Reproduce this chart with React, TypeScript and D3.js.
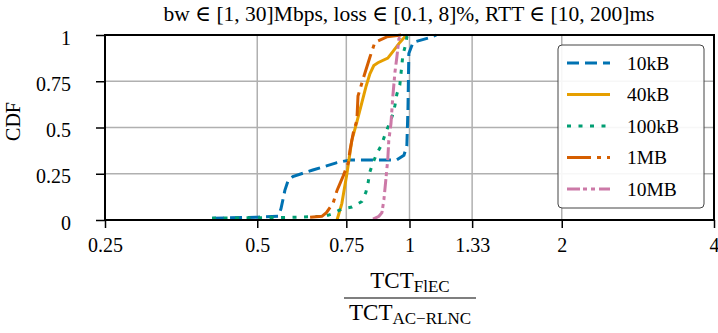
import { useEffect, useRef } from "react";
import * as d3 from "d3";

const xTicks = [0.25, 0.5, 0.75, 1, 1.33, 2, 4];
const xTickLabels = ["0.25", "0.5", "0.75", "1", "1.33", "2", "4"];
const yTicks = [0, 0.25, 0.5, 0.75, 1];
const yTickLabels = ["0", "0.25", "0.5", "0.75", "1"];

const seriesNames = ["10kB", "40kB", "100kB", "1MB", "10MB"];
const seriesColors = ["#0072B2", "#E69F00", "#009E73", "#D55E00", "#CC79A7"];
const seriesDashes = ["12,6", "none", "4,7.5", "24,6,4,6", "13,3,4,4,4,4"];

// [ratio, cdf]
const cdf10kB: [number, number][] = [
  [0.407, 0.01], [0.5, 0.015], [0.55, 0.02], [0.557, 0.06], [0.567, 0.16],
  [0.575, 0.21], [0.588, 0.235], [0.644, 0.27], [0.719, 0.31], [0.763, 0.325],
  [0.944, 0.325], [0.975, 0.35], [0.988, 0.4], [0.993, 0.6], [0.997, 0.9],
  [1.016, 0.96], [1.11, 0.99], [1.13, 1.0],
];
const cdf40kB: [number, number][] = [
  [0.719, 0], [0.735, 0.09], [0.752, 0.25], [0.769, 0.43], [0.787, 0.53],
  [0.805, 0.635], [0.82, 0.72], [0.835, 0.79], [0.85, 0.835], [0.866, 0.85],
  [0.906, 0.875], [0.927, 0.91], [0.957, 0.96], [0.979, 0.99], [0.99, 1.0],
];
const cdf100kB: [number, number][] = [
  [0.407, 0.01], [0.5, 0.012], [0.6, 0.015], [0.68, 0.02], [0.706, 0.035],
  [0.735, 0.06], [0.769, 0.07], [0.805, 0.1], [0.82, 0.15], [0.828, 0.2],
  [0.835, 0.26], [0.847, 0.31], [0.862, 0.36], [0.882, 0.41], [0.894, 0.46],
  [0.906, 0.5], [0.927, 0.57], [0.936, 0.62], [0.944, 0.68], [0.957, 0.73],
  [0.966, 0.84], [0.97, 0.89], [0.983, 0.95], [0.988, 0.99], [0.995, 1.0],
];
const cdf1MB: [number, number][] = [
  [0.636, 0.015], [0.671, 0.02], [0.685, 0.04], [0.706, 0.09], [0.719, 0.16],
  [0.74, 0.24], [0.757, 0.31], [0.763, 0.38], [0.774, 0.47], [0.787, 0.54],
  [0.791, 0.67], [0.809, 0.76], [0.835, 0.88], [0.854, 0.96], [0.902, 0.99],
  [0.966, 1.0],
];
const cdf10MB: [number, number][] = [
  [0.847, 0.005], [0.87, 0.02], [0.882, 0.04], [0.89, 0.11], [0.898, 0.22],
  [0.906, 0.33], [0.91, 0.43], [0.919, 0.52], [0.927, 0.67], [0.936, 0.8],
  [0.944, 0.88], [0.953, 0.98], [0.966, 1.0],
];

const seriesData = [cdf10kB, cdf40kB, cdf100kB, cdf1MB, cdf10MB];

const FONT = "Liberation Serif, DejaVu Serif, serif";

const CdfChart = () => {
  const ref = useRef<SVGSVGElement | null>(null);

  useEffect(() => {
    if (!ref.current) return;
    const width = 718;
    const height = 333;
    const margin = { top: 35, right: 4, bottom: 113, left: 105 };

    d3.select(ref.current).selectAll("*").remove();
    const svg = d3
      .select(ref.current)
      .attr("width", width)
      .attr("height", height)
      .style("font-family", FONT);

    const x = d3
      .scaleLog()
      .base(2)
      .domain([0.25, 4])
      .range([margin.left, width - margin.right]);
    const y = d3
      .scaleLinear()
      .domain([0, 1])
      .range([height - margin.bottom, margin.top]);

    const x0 = margin.left;
    const x1 = width - margin.right;
    const y0 = height - margin.bottom;
    const y1 = margin.top;

    // grid
    const grid = svg.append("g").attr("stroke", "#b0b0b0").attr("stroke-width", 1.5);
    grid
      .selectAll(".gx")
      .data(xTicks)
      .join("line")
      .attr("x1", (d) => x(d))
      .attr("x2", (d) => x(d))
      .attr("y1", y1)
      .attr("y2", y0);
    grid
      .selectAll(".gy")
      .data(yTicks)
      .join("line")
      .attr("x1", x0)
      .attr("x2", x1)
      .attr("y1", (d) => y(d))
      .attr("y2", (d) => y(d));

    // curves
    const line = d3
      .line<[number, number]>()
      .x((d) => x(d[0]))
      .y((d) => y(d[1]));

    seriesData.forEach((data, i) => {
      svg
        .append("path")
        .datum(data)
        .attr("d", line)
        .attr("fill", "none")
        .attr("stroke", seriesColors[i])
        .attr("stroke-width", 3)
        .attr("stroke-dasharray", seriesDashes[i]);
    });

    // frame
    svg
      .append("rect")
      .attr("x", x0)
      .attr("y", y1)
      .attr("width", x1 - x0)
      .attr("height", y0 - y1)
      .attr("fill", "none")
      .attr("stroke", "black")
      .attr("stroke-width", 2);

    // X axis
    const xAxis = svg
      .append("g")
      .attr("transform", `translate(0,${y0})`)
      .call(
        d3
          .axisBottom(x)
          .tickValues(xTicks)
          .tickSize(8)
          .tickPadding(10)
          .tickFormat((_, i) => xTickLabels[i])
      );
    xAxis.attr("font-family", null).attr("font-size", null);
    xAxis.select(".domain").remove();
    xAxis.selectAll("line").attr("stroke", "black").attr("stroke-width", 1.5);
    xAxis
      .selectAll("text")
      .attr("fill", "black")
      .style("font-size", "20px");

    // Y axis
    const yAxis = svg
      .append("g")
      .attr("transform", `translate(${x0},0)`)
      .call(
        d3
          .axisLeft(y)
          .tickValues(yTicks)
          .tickSize(9)
          .tickPadding(25)
          .tickFormat((_, i) => yTickLabels[i])
      );
    yAxis.attr("font-family", null).attr("font-size", null);
    yAxis.select(".domain").remove();
    yAxis.selectAll("line").attr("stroke", "black").attr("stroke-width", 1.5);
    yAxis
      .selectAll("text")
      .attr("fill", "black")
      .attr("dy", "0.45em")
      .style("font-size", "20px");

    svg
      .append("text")
      .attr("transform", `translate(20,${(y0 + y1) / 2 - 6}) rotate(-90)`)
      .attr("text-anchor", "middle")
      .style("font-size", "20px")
      .text("CDF");

    // title
    svg
      .append("text")
      .attr("x", 409)
      .attr("y", 21)
      .attr("text-anchor", "middle")
      .style("font-size", "21.5px")
      .text("bw ∈ [1, 30]Mbps, loss ∈ [0.1, 8]%, RTT ∈ [10, 200]ms");

    // x label as fraction
    const num = svg
      .append("text")
      .attr("x", 410)
      .attr("y", 288)
      .attr("text-anchor", "middle")
      .style("font-size", "23px");
    num.append("tspan").text("TCT");
    num.append("tspan").style("font-size", "17px").attr("dy", 4).text("FlEC");

    svg
      .append("line")
      .attr("x1", 344)
      .attr("x2", 476)
      .attr("y1", 298)
      .attr("y2", 298)
      .attr("stroke", "black")
      .attr("stroke-width", 1.2);

    const den = svg
      .append("text")
      .attr("x", 410)
      .attr("y", 320)
      .attr("text-anchor", "middle")
      .style("font-size", "23px");
    den.append("tspan").text("TCT");
    den.append("tspan").style("font-size", "17px").attr("dy", 4).text("AC−RLNC");

    // legend
    const lg = svg.append("g");
    lg.append("rect")
      .attr("x", 558)
      .attr("y", 45)
      .attr("width", 146)
      .attr("height", 163)
      .attr("rx", 4)
      .attr("fill", "white")
      .attr("fill-opacity", 0.9)
      .attr("stroke", "#444")
      .attr("stroke-width", 1);

    const items = lg
      .selectAll(".item")
      .data(seriesNames)
      .join("g")
      .attr("class", "item")
      .attr("transform", (_, i) => `translate(567,${63 + i * 31.5})`);
    items
      .append("line")
      .attr("x1", 0)
      .attr("x2", 43)
      .attr("stroke", (_, i) => seriesColors[i])
      .attr("stroke-width", 3)
      .attr("stroke-dasharray", (_, i) => seriesDashes[i]);
    items
      .append("text")
      .attr("x", 60)
      .attr("y", 6.5)
      .style("font-size", "19.5px")
      .text((d) => d);
  }, []);

  return (
    <svg ref={ref} style={{ position: "absolute", left: 0, top: 0, background: "white" }}></svg>
  );
};

export default function App() {
  return <CdfChart />;
}
